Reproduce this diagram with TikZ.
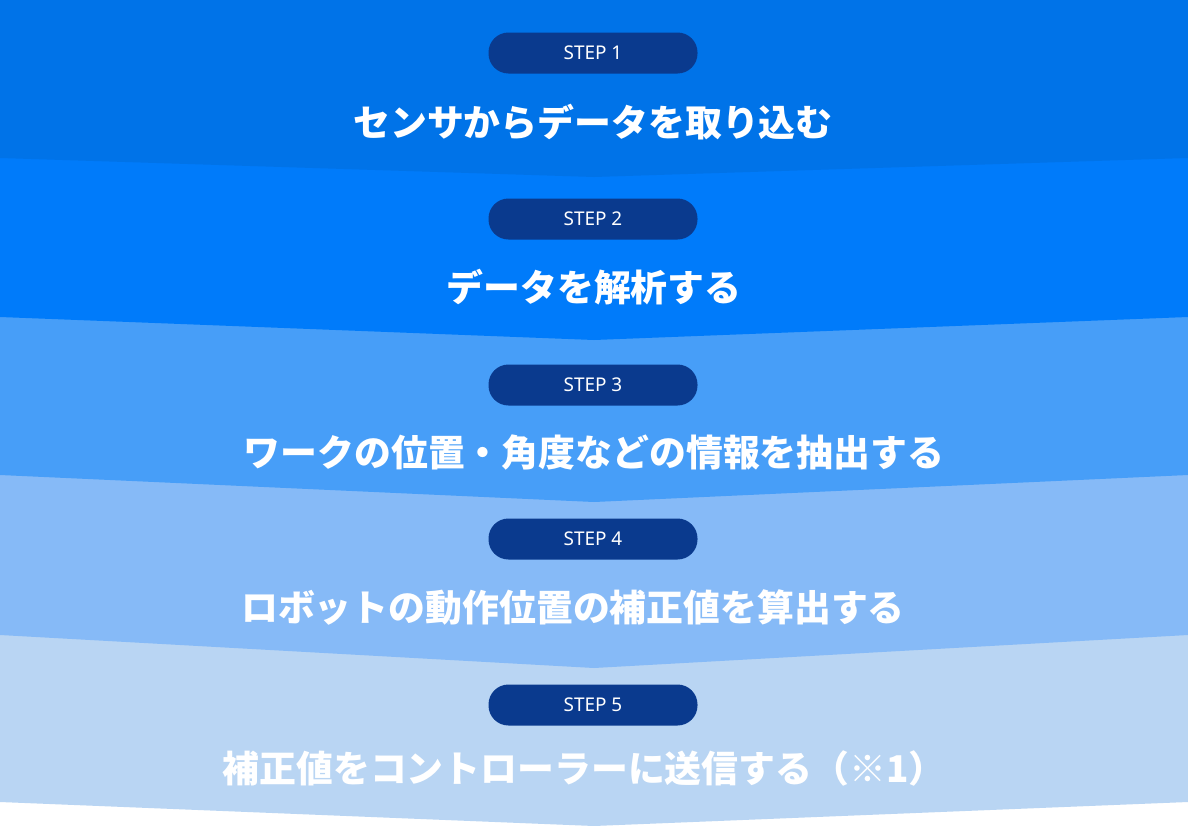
\documentclass[tikz,border=0pt]{standalone}
\usepackage{fontspec}
\newfontfamily\jp{Noto Sans CJK JP}
\newfontfamily\lat{Noto Sans}
\definecolor{cA}{HTML}{0073E8}
\definecolor{cB}{HTML}{007BFA}
\definecolor{cC}{HTML}{479EF8}
\definecolor{cD}{HTML}{86BAF7}
\definecolor{cE}{HTML}{B9D5F3}
\definecolor{pill}{HTML}{0A3A8E}
\tikzset{
 pillbox/.style={fill=pill,rounded corners=20bp,minimum width=209bp,minimum height=41bp,text=white,font=\lat\bfseries\fontsize{19}{19}\selectfont,inner sep=0},
 title/.style={text=white,font=\jp\bfseries\fontsize{37}{37}\selectfont,inner sep=0}
}
\begin{document}
\begin{tikzpicture}[x=1bp,y=-1bp]
\useasboundingbox (0,0) rectangle (1188,826);
\fill[white] (0,0) rectangle (1188,826);
\foreach \e/\c/\col in {802/826/cE,635/668/cD,475/502/cC,317/340/cB,158/177/cA}{
 \fill[\col] (0,0) -- (1188,0) -- (1188,\e) -- (594,\c) -- (0,\e) -- cycle;
}
\node[pillbox] (p1) at (593,53) {STEP 1};
\node[pillbox] (p2) at (593,219) {STEP 2};
\node[pillbox] (p3) at (593,385) {STEP 3};
\node[pillbox] (p4) at (593,539) {STEP 4};
\node[pillbox] (p5) at (593,705) {STEP 5};
\node[title] (t1) at (593,122) {センサからデータを取り込む};
\node[title] (t2) at (594,287) {データを解析する};
\node[title] (t3) at (594,452) {ワークの位置・角度などの情報を抽出する};
\node[title] (t4) at (573,607) {ロボットの動作位置の補正値を算出する};
\node[title] (t5) at (584,768) {補正値をコントローラーに送信する（※1）};
\end{tikzpicture}
\end{document}
